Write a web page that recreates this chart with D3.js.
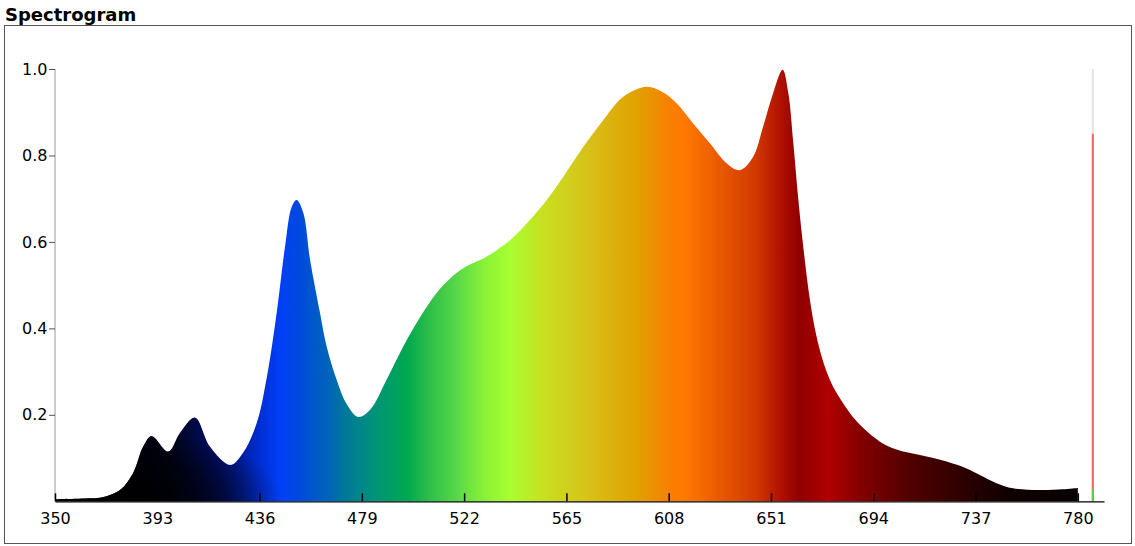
<!DOCTYPE html>
<html>
<head>
<meta charset="utf-8">
<script src="https://cdn.jsdelivr.net/npm/d3@7"></script>
<style>
  html, body { margin: 0; padding: 0; background: #fff; }
  svg { display: block; font-family: "DejaVu Sans", Verdana, sans-serif; }
</style>
</head>
<body>
<svg id="chart" width="1135" height="546"></svg>
<script>
// ---- Data ----
const title = "Spectrogram";
const wavelengths = [350, 360, 365, 368.9, 377.3, 382.8, 387.0, 390.6, 397.6, 402.5, 408.8, 415.2, 423.6, 429.0, 434.8, 439.0, 443.2, 446.7, 449.5, 451.6, 454.4, 457.2, 461.4, 464.2, 468.4, 472.6, 477.5, 482.4, 489.4, 496.4, 503.4, 510.4, 516.0, 521.6, 531.5, 541.3, 549.7, 556.7, 563.7, 572.1, 580.5, 588.9, 598.7, 605.0, 611.3, 618.3, 625.3, 632.3, 637.9, 643.5, 647.7, 651.9, 655.9, 658.3, 660.4, 662.5, 664.8, 667.4, 670.0, 673.0, 676.5, 680.5, 687.0, 696.8, 703.8, 713.6, 724.8, 733.2, 738.8, 745.8, 752.8, 764.0, 773.8, 780];
const intensity   = [0.005, 0.006, 0.007, 0.008, 0.026, 0.065, 0.126, 0.151, 0.115, 0.158, 0.194, 0.126, 0.084, 0.112, 0.181, 0.285, 0.436, 0.589, 0.681, 0.697, 0.667, 0.56, 0.436, 0.358, 0.281, 0.225, 0.195, 0.211, 0.281, 0.358, 0.425, 0.482, 0.515, 0.539, 0.566, 0.604, 0.651, 0.697, 0.751, 0.820, 0.882, 0.936, 0.959, 0.948, 0.921, 0.874, 0.828, 0.782, 0.766, 0.797, 0.867, 0.944, 0.998, 0.944, 0.828, 0.697, 0.578, 0.465, 0.385, 0.322, 0.272, 0.234, 0.185, 0.138, 0.120, 0.107, 0.092, 0.076, 0.061, 0.042, 0.030, 0.026, 0.028, 0.031];
const xTicks = [350, 393, 436, 479, 522, 565, 608, 651, 694, 737, 780];
const yTicks = [0.2, 0.4, 0.6, 0.8, 1.0];
const gradientNm = [350, 390, 400, 412, 425, 437, 445, 452, 459, 466, 472, 479, 487, 498, 508, 519, 530, 541, 555, 575, 595, 608, 615, 630, 645, 655, 663, 675, 690, 710, 730, 750, 780];
const gradientColors = ["#000008", "#00000f", "#000520", "#000a50", "#001890", "#0030d8", "#0040f8", "#0048e0", "#0058c8", "#0066b8", "#007898", "#008888", "#009870", "#00a850", "#30c048", "#58d848", "#88f038", "#a8ff30", "#c8e020", "#d8c018", "#e0a000", "#f88000", "#ff7800", "#e85800", "#d03800", "#b01000", "#900000", "#b00000", "#800000", "#500000", "#300000", "#100000", "#080000"];
// indicator bar at the right (total / red / green levels)
const indicatorNm = 786.3;
const indicatorLevels = [1.0, 0.85, 0.028];
const indicatorColors = ["#e2e2e2", "#ef6464", "#5fcf3f"];

// ---- Chart ----
const svg = d3.select("#chart");
const x = d3.scaleLinear().domain([350, 791]).range([55, 1104]);
const y = d3.scaleLinear().domain([0, 1]).range([501.3, 69]);

// frame
svg.append("rect").attr("x", 4.5).attr("y", 25.5).attr("width", 1127).attr("height", 518)
  .attr("fill", "none").attr("stroke", "#555").attr("stroke-width", 1);

svg.append("text").attr("x", 5).attr("y", 21)
  .attr("font-size", 18).attr("font-weight", "bold").attr("fill", "#000").text(title);

// gradients
const defs = svg.append("defs");
const grad = defs.append("linearGradient").attr("id", "spec")
  .attr("gradientUnits", "userSpaceOnUse")
  .attr("x1", x(350)).attr("x2", x(780)).attr("y1", 0).attr("y2", 0);
gradientNm.forEach((nm, i) => {
  grad.append("stop").attr("offset", (nm - 350) / 430).attr("stop-color", gradientColors[i]);
});
// dark shading near the bottom-left
const shade = defs.append("radialGradient").attr("id", "shade")
  .attr("gradientUnits", "userSpaceOnUse")
  .attr("cx", 0).attr("cy", 0).attr("r", 100)
  .attr("gradientTransform", `translate(${x(385)},${y(0)}) scale(1.45,0.7)`);
shade.append("stop").attr("offset", 0).attr("stop-color", "#000").attr("stop-opacity", 0.9);
shade.append("stop").attr("offset", 0.55).attr("stop-color", "#000").attr("stop-opacity", 0.55);
shade.append("stop").attr("offset", 1).attr("stop-color", "#000").attr("stop-opacity", 0);

const data = wavelengths.map((w, i) => ({ w, v: intensity[i] }));
const area = d3.area().x(d => x(d.w)).y0(y(0)).y1(d => y(d.v)).curve(d3.curveCatmullRom.alpha(0.5));
svg.append("path").datum(data).attr("d", area).attr("fill", "url(#spec)");
svg.append("path").datum(data).attr("d", area).attr("fill", "url(#shade)");

// indicator
indicatorLevels.forEach((lv, i) => {
  svg.append("line").attr("x1", x(indicatorNm)).attr("x2", x(indicatorNm))
    .attr("y1", y(0)).attr("y2", y(lv))
    .attr("stroke", indicatorColors[i]).attr("stroke-width", 2);
});

// y axis
const yAxis = svg.append("g").attr("transform", `translate(${x(350)},0)`)
  .call(d3.axisLeft(y).tickValues(yTicks).tickFormat(d3.format(".1f")).tickSize(6).tickSizeOuter(0).tickPadding(1.5));
yAxis.select(".domain").attr("stroke", "#999").attr("d", `M0,${y(1)}V${y(0)}`);
yAxis.selectAll(".tick line").attr("stroke", "#555");
yAxis.selectAll("text").attr("font-size", 16).attr("fill", "#000").attr("font-family", "DejaVu Sans, Verdana, sans-serif");

// x axis
const xAxis = svg.append("g").attr("transform", `translate(0,${y(0)})`)
  .call(d3.axisBottom(x).tickValues(xTicks).tickFormat(d3.format("d")).tickSize(-8).tickSizeOuter(0).tickPadding(11));
xAxis.select(".domain").attr("stroke", "#000").attr("stroke-width", 1.2);
xAxis.selectAll(".tick line").attr("stroke", "#000").attr("stroke-width", 1.5);
xAxis.selectAll("text").attr("font-size", 16).attr("fill", "#000").attr("font-family", "DejaVu Sans, Verdana, sans-serif");
</script>
</body>
</html>
